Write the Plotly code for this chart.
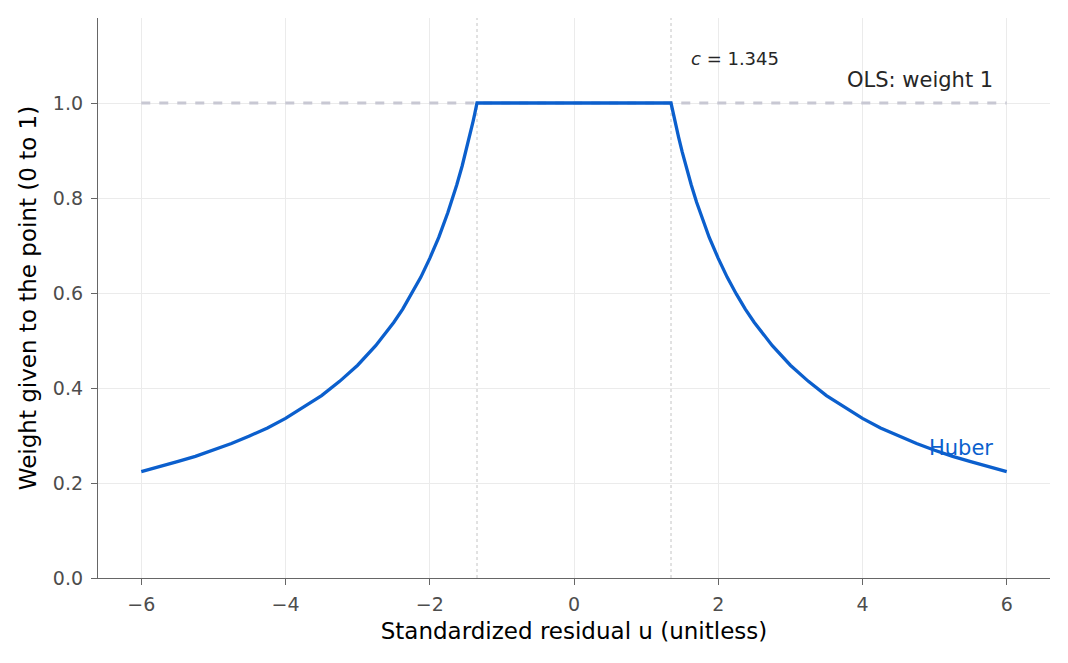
import plotly.graph_objects as go

# Huber weight curve (right half; left half is its mirror image)
u_right = [1.345, 1.375, 1.4, 1.45, 1.5, 1.55, 1.625, 1.7, 1.75, 1.875, 2.0, 2.125, 2.25,
           2.375, 2.5, 2.75, 3.0, 3.25, 3.5, 3.75, 4.0, 4.25, 4.5, 4.75, 5.0, 5.25,
           5.5, 5.75, 6.0]
w_right = [1.0, 0.978, 0.961, 0.928, 0.897, 0.868, 0.828, 0.791, 0.769, 0.717, 0.673, 0.633, 0.598,
           0.566, 0.538, 0.489, 0.448, 0.414, 0.384, 0.359, 0.336, 0.316, 0.299, 0.283, 0.269, 0.256,
           0.245, 0.234, 0.224]

u_vals = [-u for u in reversed(u_right)] + u_right
huber_w = list(reversed(w_right)) + w_right

ols_u = [-6.0, 6.0]
ols_w = [1.0, 1.0]
c_val = 1.345

x_ticks = [-6, -4, -2, 0, 2, 4, 6]
x_tick_text = ["\u22126", "\u22124", "\u22122", "0", "2", "4", "6"]
y_ticks = [0.0, 0.2, 0.4, 0.6, 0.8, 1.0]

FONT = "DejaVu Sans"
BLUE = "#0b5fcd"

fig = go.Figure()
fig.add_trace(go.Scatter(x=ols_u, y=ols_w, mode="lines",
                         line=dict(color="#c8c8d3", width=3, dash="dash"),
                         hoverinfo="skip", showlegend=False))
fig.add_trace(go.Scatter(x=u_vals, y=huber_w, mode="lines",
                         line=dict(color=BLUE, width=3.3),
                         showlegend=False))

for cx in (-c_val, c_val):
    fig.add_shape(type="line", x0=cx, x1=cx, y0=0, y1=1, yref="paper",
                  line=dict(color="#c4c4c4", width=1, dash="dot"), layer="below")

fig.add_annotation(x=1.6, y=1.093, text="<i>c</i> = 1.345", showarrow=False,
                   xanchor="left", yanchor="middle",
                   font=dict(family=FONT, size=18, color="#262626"))
fig.add_annotation(x=5.84, y=1.048, text="OLS: weight 1", showarrow=False,
                   xanchor="right", yanchor="middle",
                   font=dict(family=FONT, size=21, color="#262626"))
fig.add_annotation(x=5.84, y=0.274, text="Huber", showarrow=False,
                   xanchor="right", yanchor="middle",
                   font=dict(family=FONT, size=21, color=BLUE))

fig.update_layout(
    width=1068, height=663,
    margin=dict(l=98, r=18, t=18, b=85),
    plot_bgcolor="white", paper_bgcolor="white",
    font=dict(family=FONT, color="#4d4d4d"),
    xaxis=dict(range=[-6.6, 6.6], tickvals=x_ticks, ticktext=x_tick_text,
               showgrid=True, gridcolor="#ebebeb", gridwidth=1,
               showline=True, linecolor="#666666", linewidth=1.3,
               ticks="outside", ticklen=6, tickcolor="#666666", tickwidth=1.2,
               ticklabelstandoff=3,
               tickfont=dict(family=FONT, size=19, color="#4d4d4d"),
               zeroline=False,
               title=dict(text="Standardized residual u (unitless)",
                          font=dict(family=FONT, size=23, color="#000000"), standoff=8)),
    yaxis=dict(range=[0, 1.179], tickvals=y_ticks, tickformat=".1f",
               showgrid=True, gridcolor="#ebebeb", gridwidth=1,
               showline=True, linecolor="#666666", linewidth=1.3,
               ticks="outside", ticklen=6, tickcolor="#666666", tickwidth=1.2,
               ticklabelstandoff=4,
               tickfont=dict(family=FONT, size=19, color="#4d4d4d"),
               zeroline=False,
               title=dict(text="Weight given to the point (0 to 1)",
                          font=dict(family=FONT, size=23, color="#000000"), standoff=9)),
)

fig.write_html("out.html")
